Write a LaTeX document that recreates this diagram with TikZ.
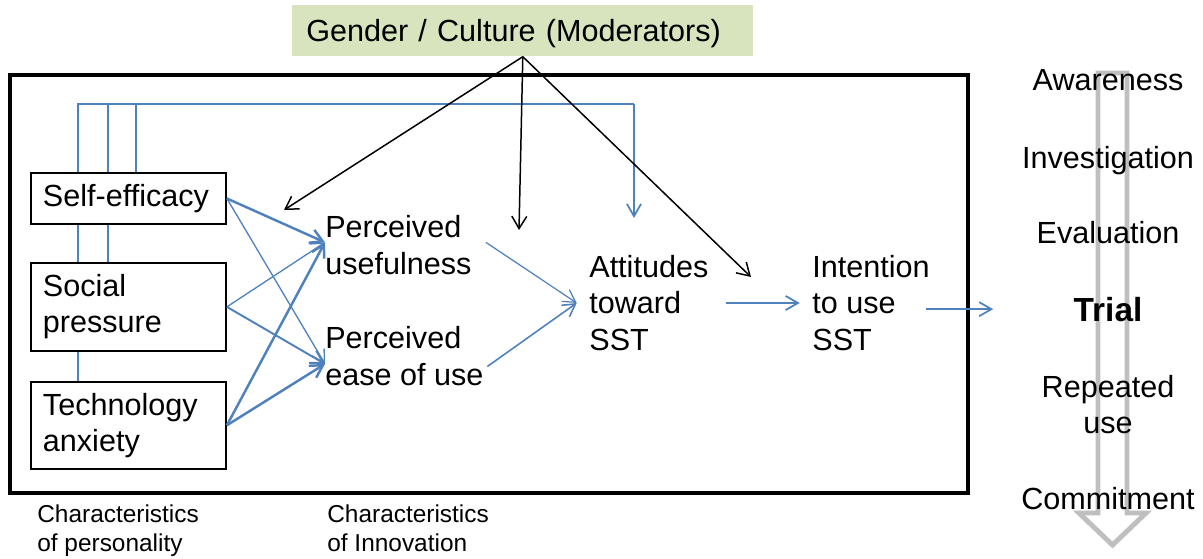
\documentclass[tikz,border=0pt]{standalone}
\usepackage{fontspec}
\setmainfont{Liberation Sans}
\usepackage{xcolor}
\usepackage{tikz}
\usetikzlibrary{arrows.meta}
\usetikzlibrary{backgrounds}
\usetikzlibrary{positioning}

\definecolor{flowblue}{HTML}{4F81BD}
\definecolor{modgreen}{HTML}{D7E4BD}
\definecolor{stagegray}{HTML}{BFBFBF}

\begin{document}
\begin{tikzpicture}
[
	x = 0.02cm, y = -0.02cm,
	every node/.style	= {font = \fontsize{17.4}{20.6}\selectfont},
	factor/.style	= {rectangle, draw = black, line width = 1.1pt, fill = white, anchor = north west, text width = 3.42cm, inner xsep = 0.24cm, inner ysep = 0cm, align = left},
	construct/.style	= {anchor = west, inner sep = 0cm, align = left},
	moderator/.style	= {rectangle, fill = modgreen, anchor = north west, text width = 8.66cm, text height = 16pt, text depth = 3.7pt, minimum height = 1.02cm, inner xsep = 0.28cm, inner ysep = 0cm, align = left},
	stage/.style	= {anchor = base, inner sep = 0cm, align = center},
	caption/.style	= {anchor = north west, inner sep = 0cm, align = left, font = \fontsize{13.9}{17}\selectfont},
	flow/.style	= {draw = flowblue, line width = 0.8pt, -{Straight Barb[length = 7pt, width = 8pt]}},
	moderates/.style	= {draw = black, line width = 0.85pt, -{Straight Barb[length = 7pt, width = 8.5pt]}},
	feedback/.style	= {draw = flowblue, line width = 1pt},
]

	\useasboundingbox (0,0) rectangle (1203,558);

	% outer frame of the model
	\draw [line width = 2.8pt] (10,75) rectangle (968,493);

	\node (mod) [moderator] at (292,5) {Gender / Culture (Moderators)};

	\node (self) [factor, minimum height = 1.02cm] at (30,172) {Self-efficacy};
	\node (social) [factor, minimum height = 1.76cm, below = 0.74cm of self] {Social\\pressure};
	\node (tech) [factor, minimum height = 1.74cm, below = 0.58cm of social] {Technology\\anxiety};
	%
	\node (pu) [construct] at (325,245) {Perceived\\usefulness};
	\node (pe) [construct] at (325,356) {Perceived\\ease of use};
	\node (att) [construct] at (589,303) {Attitudes\\toward\\SST};
	\node (int) [construct] at (812,303) {Intention\\to use\\SST};

	\node (cpers) [caption] at (37,504) {Characteristics\\of personality};
	\node (cinno) [caption] at (327,504) {Characteristics\\of Innovation};

	% adoption stages
	\draw [stagegray, line width = 2.8pt, line join = miter] (1098,73) -- (1127,73) -- (1127,513) -- (1146,513) -- (1112.5,545) -- (1079,513) -- (1098,513) -- cycle;
	\node (aware) [stage] at (1108,90) {Awareness};
	\node (invest) [stage] at (1108,168) {Investigation};
	\node (eval) [stage] at (1108,243) {Evaluation};
	\node (trial) [stage, font = \fontsize{19}{22}\selectfont\bfseries] at (1108,321) {Trial};
	\node (repeat) [stage, anchor = north] at (1108,375) {Repeated\\use};
	\node (commit) [stage] at (1108,509) {Commitment};

	\coordinate (fbCorner) at (634,104);
	\coordinate (fbEnd) at (634,218);
	\coordinate (modPU) at (284,210);
	\coordinate (modAtt) at (519,230);
	\coordinate (modInt) at (751,277);

	\begin{scope}[on background layer]
		\draw [feedback] ([xshift = 0.96cm]tech.north west) |- (fbCorner);
		\draw [feedback] ([xshift = 1.56cm]social.north west) |- (fbCorner);
		\draw [feedback] ([xshift = 2.12cm]self.north west) |- (fbCorner);
	\end{scope}
	\draw [flow, line width = 1pt] (fbCorner) -- (fbEnd);

	\draw [flow, line width = 1.4pt] (self.east) -- ([yshift = 1.5pt]pu.west);
	\draw [flow, line width = 0.75pt] (self.east) -- ([yshift = -4.5pt]pe.west);
	\draw [flow, line width = 0.75pt] (social.east) -- ([yshift = 1.5pt]pu.west);
	\draw [flow, line width = 1.1pt] (social.east) -- ([yshift = -4.5pt]pe.west);
	\draw [flow, line width = 1.4pt] (tech.east) -- ([yshift = 1.5pt]pu.west);
	\draw [flow, line width = 1.4pt] (tech.east) -- ([yshift = -4.5pt]pe.west);
	%
	\draw [flow, line width = 0.7pt] ([xshift = 8pt, yshift = 1.5pt]pu.east) -- ([xshift = -7pt, yshift = -0pt]att.west);
	\draw [flow, line width = 0.9pt] ([xshift = 2pt, yshift = -6pt]pe.east) -- ([xshift = -7pt, yshift = -0pt]att.west);
	\draw [flow, line width = 1pt, shorten < = 10pt, shorten > = 7pt] ([yshift = 0pt]att.east) -- ([yshift = 0pt]int.west);
	\draw [flow, line width = 1pt, shorten > = 43.6pt] ([xshift = -2pt, yshift = -3.5pt]int.east) -- ([xshift = -2pt, yshift = -3.5pt]int.east -| trial.west);

	\draw [moderates] (mod.south) -- (modPU);
	\draw [moderates] (mod.south) -- (modAtt);
	\draw [moderates] (mod.south) -- (modInt);

\end{tikzpicture}
\end{document}
